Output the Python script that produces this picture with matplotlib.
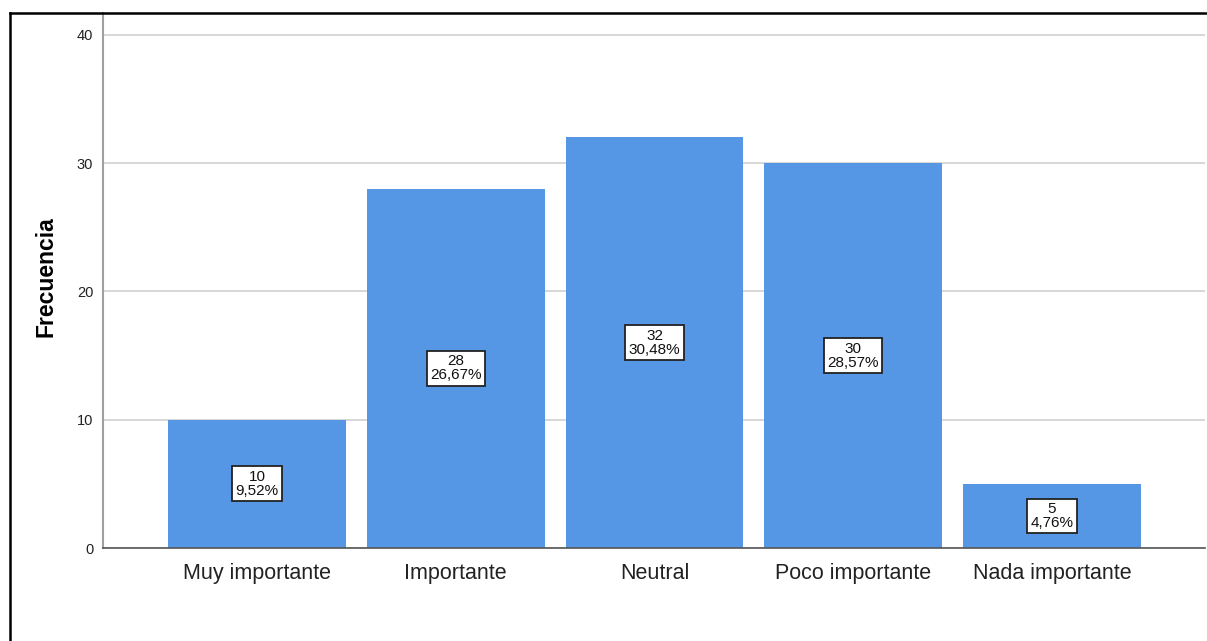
import matplotlib.pyplot as plt
from matplotlib.lines import Line2D

plt.rcParams['font.family'] = ['Liberation Sans', 'DejaVu Sans']

# Data
categorias = ["Muy importante", "Importante", "Neutral", "Poco importante", "Nada importante"]
frecuencias = [10, 28, 32, 30, 5]
porcentajes = ["9,52%", "26,67%", "30,48%", "28,57%", "4,76%"]
y_ticks = [0, 10, 20, 30, 40]

bar_color = '#5596e5'

fig = plt.figure(figsize=(12.07, 6.41), dpi=100)
ax = fig.add_axes([103 / 1207, 1 - 548 / 641, (1205 - 103) / 1207, (548 - 13) / 641])

x = list(range(len(categorias)))
ax.bar(x, frecuencias, width=0.895, color=bar_color, zorder=2)

# value labels in white boxes at mid-height
for xi, f, p in zip(x, frecuencias, porcentajes):
    ax.text(xi, f / 2, f"{f}\n{p}", ha='center', va='center', fontsize=11,
            linespacing=1.0, color='#111111', zorder=3,
            bbox=dict(boxstyle='square,pad=0.22', facecolor='white',
                      edgecolor='#222222', linewidth=1.3))

ax.set_xlim(-0.775, 4.77)
ax.set_ylim(0, 41.7)
ax.set_yticks(y_ticks)
ax.set_xticks(x)
ax.set_xticklabels(categorias, fontsize=15.5, color='#222222')
ax.tick_params(axis='x', length=0, pad=11)
ax.tick_params(axis='y', length=0, pad=7, labelsize=10.5, labelcolor='#222222')
ax.yaxis.grid(True, color='#d4d4d4', linewidth=1.3, zorder=0)
ax.set_axisbelow(True)

ax.spines['top'].set_visible(False)
ax.spines['right'].set_visible(False)
ax.spines['left'].set_color('#a0a0a0')
ax.spines['left'].set_linewidth(1.5)
ax.spines['bottom'].set_color('#555555')
ax.spines['bottom'].set_linewidth(1.2)

fig.text(46 / 1207, 1 - 277 / 641, "Frecuencia", rotation=90, ha='center', va='center',
         fontsize=16.5, fontweight='bold', color='black')

# outer frame (only top and left visible in the image)
fig.add_artist(Line2D([10 / 1207, 1], [1 - 13 / 641, 1 - 13 / 641],
                      transform=fig.transFigure, color='black', linewidth=1.8))
fig.add_artist(Line2D([10 / 1207, 10 / 1207], [0, 1 - 13 / 641],
                      transform=fig.transFigure, color='black', linewidth=1.8))

fig.savefig('out.png', dpi=100)
